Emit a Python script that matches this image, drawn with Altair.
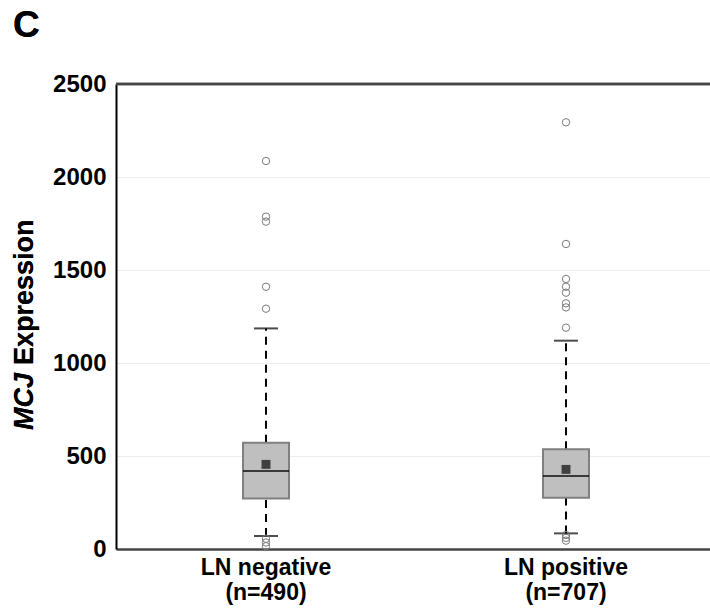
import altair as alt
import pandas as pd

groups = ["LN negative", "LN positive"]
n_labels = ["(n=490)", "(n=707)"]
q1 = [272, 276]
median = [419, 392]
q3 = [571, 536]
mean = [455, 428]
whisker_low = [70, 84]
whisker_high = [1186, 1120]
outliers_neg = [2086, 1787, 1760, 1410, 1292, 55, 35, 15]
outliers_pos = [2294, 1640, 1452, 1410, 1378, 1321, 1299, 1190, 75, 60, 45]
y_ticks = [0, 500, 1000, 1500, 2000, 2500]

W, H = 594, 465
FONT = "Liberation Sans"

stats = pd.DataFrame({
    "group": groups, "q1": q1, "median": median, "q3": q3, "mean": mean,
    "lo": whisker_low, "hi": whisker_high,
})
out = pd.DataFrame({
    "group": [groups[0]] * len(outliers_neg) + [groups[1]] * len(outliers_pos),
    "value": outliers_neg + outliers_pos,
})

label_map = " : ".join(
    f"datum.value == '{g}' ? ['{g}', '{n}']" for g, n in zip(groups, n_labels)
) + " : datum.label"

x_enc = alt.X(
    "group:N", sort=groups, title=None,
    scale=alt.Scale(range=[0, 600], paddingInner=0, paddingOuter=0),
    axis=alt.Axis(
        labelExpr=label_map, labelAngle=0, ticks=False, labelPadding=7,
        labelFont=FONT, labelFontSize=23, labelFontWeight="bold", labelColor="black",
        labelLineHeight=25, domainColor="#454545", domainWidth=2.5, grid=False,
    ),
)
y_scale = alt.Scale(domain=[0, 2500], nice=False)
y_axis = alt.Axis(
    values=y_ticks, format="d", ticks=False, labelPadding=10, labelFont=FONT,
    labelFontSize=24, labelFontWeight="bold", labelColor="black",
    domainColor="black", domainWidth=2,
    grid=True, gridColor="#ececec", gridWidth=1, title=None,
)

base = alt.Chart(stats)

whisk_up = base.mark_rule(color="black", strokeWidth=2, strokeDash=[8, 6]).encode(
    x=x_enc, y=alt.Y("q3:Q", scale=y_scale, axis=y_axis), y2="hi:Q")
whisk_dn = base.mark_rule(color="black", strokeWidth=2, strokeDash=[8, 6]).encode(
    x=x_enc, y=alt.Y("lo:Q"), y2="q1:Q")
cap_hi = base.mark_tick(color="black", size=24, thickness=2, orient="horizontal").encode(
    x=x_enc, y="hi:Q")
cap_lo = base.mark_tick(color="black", size=24, thickness=2, orient="horizontal").encode(
    x=x_enc, y="lo:Q")
box = base.mark_bar(size=46, color="#bfbfbf", stroke="#808080", strokeWidth=2).encode(
    x=x_enc, y="q1:Q", y2="q3:Q")
med = base.mark_tick(color="black", size=46, thickness=2, orient="horizontal").encode(
    x=x_enc, y="median:Q")
mn = base.mark_point(shape="square", filled=True, color="#404040", size=80, opacity=1).encode(
    x=x_enc, y="mean:Q")
outl = alt.Chart(out).mark_point(shape="circle", filled=False, color="#7a7a7a",
                                 size=55, strokeWidth=1, opacity=1).encode(
    x=x_enc, y="value:Q")

top_line = base.mark_rule(color="#454545", strokeWidth=2.5).encode(
    x=alt.value(0), x2=alt.value(W), y=alt.value(0))

letter = base.mark_text(text="C", font=FONT, fontSize=37, fontWeight="bold",
                        align="left", baseline="alphabetic", color="black").encode(
    x=alt.value(-103), y=alt.value(-47))

title_a = base.mark_text(text="MCJ", font=FONT, fontSize=27, fontWeight="bold",
                         fontStyle="italic", angle=270, align="right",
                         baseline="alphabetic", color="black").encode(
    x=alt.value(-83), y=alt.value(289))
title_b = base.mark_text(text="Expression", font=FONT, fontSize=27, fontWeight="bold",
                         angle=270, align="left", baseline="alphabetic",
                         color="black").encode(
    x=alt.value(-83), y=alt.value(281))

chart = alt.layer(
    whisk_up, whisk_dn, cap_hi, cap_lo, box, med, mn, outl, top_line,
    letter, title_a, title_b,
).properties(
    width=W, height=H,
    autosize=alt.AutoSizeParams(type="none"),
    padding={"left": 116, "top": 84, "right": 0, "bottom": 61},
).configure_view(stroke=None).configure(background="white")

chart.save("out.html", embed_options={"renderer": "svg", "actions": False})
